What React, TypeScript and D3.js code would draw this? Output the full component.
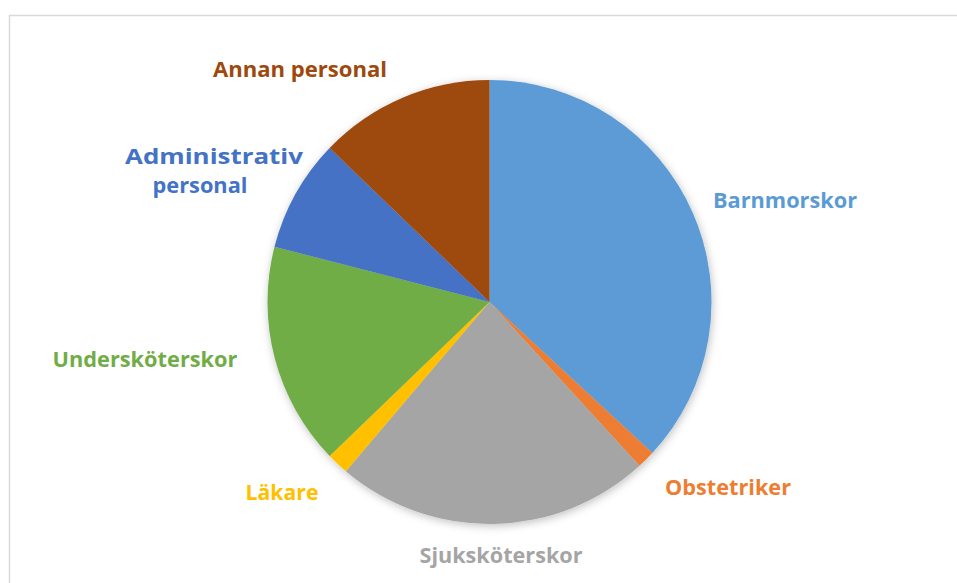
import React, { useRef, useEffect } from 'react';
import * as d3 from 'd3';

// Personnel categories, clockwise from 12 o'clock
const categories = ['Barnmorskor', 'Obstetriker', 'Sjuksköterskor', 'Läkare', 'Undersköterskor', 'Administrativ personal', 'Annan personal'];
const values = [36.9, 1.3, 23.0, 1.6, 16.2, 8.2, 12.8];
const colors = ['#5B9BD5', '#ED7D31', '#A5A5A5', '#FFC000', '#70AD47', '#4472C4', '#9E480E'];

// label layout: text lines, centre x per line, first baseline, fitted width per line
const labelLayout = [
  { lines: ['Barnmorskor'], x: [785], y: 208, w: [144] },
  { lines: ['Obstetriker'], x: [728], y: 495, w: [126] },
  { lines: ['Sjuksköterskor'], x: [501], y: 563, w: [163] },
  { lines: ['Läkare'], x: [282], y: 500, w: [73] },
  { lines: ['Undersköterskor'], x: [145], y: 367, w: [185] },
  { lines: ['Administrativ', 'personal'], x: [214, 200], y: 164, w: [178, 95] },
  { lines: ['Annan personal'], x: [300], y: 77, w: [174] },
];

const W = 957;
const H = 583;

const App: React.FC = () => {
  const ref = useRef<SVGSVGElement | null>(null);

  useEffect(() => {
    if (!ref.current) return;
    const svg = d3.select(ref.current);
    svg.selectAll('*').remove();

    const cx = 489.5;
    const cy = 302;
    const r = 222;

    const defs = svg.append('defs');
    const f = defs.append('filter').attr('id', 'shadow')
      .attr('x', '-20%').attr('y', '-20%').attr('width', '140%').attr('height', '140%');
    f.append('feDropShadow')
      .attr('dx', 1).attr('dy', 2).attr('stdDeviation', 4)
      .attr('flood-color', '#000').attr('flood-opacity', 0.25);

    // chart area border
    svg.append('rect')
      .attr('x', 9.5).attr('y', 15.5)
      .attr('width', W + 20).attr('height', H + 20)
      .attr('fill', '#fff')
      .attr('stroke', '#d9d9d9')
      .attr('stroke-width', 1.5);

    const data = categories.map((c, i) => ({ name: c, value: values[i], color: colors[i] }));
    const pie = d3.pie<typeof data[0]>().sort(null).value(d => d.value);
    const arc = d3.arc<d3.PieArcDatum<typeof data[0]>>().innerRadius(0).outerRadius(r);

    const g = svg.append('g').attr('transform', `translate(${cx},${cy})`);
    g.append('g').attr('filter', 'url(#shadow)')
      .selectAll('path')
      .data(pie(data))
      .join('path')
      .attr('d', arc)
      .attr('fill', d => d.data.color);

    // labels
    labelLayout.forEach((lab, i) => {
      const t = svg.append('text')
        .attr('font-family', '"Open Sans", Lato, sans-serif')
        .attr('font-weight', 700)
        .attr('font-size', 22)
        .attr('fill', colors[i])
        .attr('text-anchor', 'middle');
      lab.lines.forEach((line, j) => {
        t.append('tspan')
          .attr('x', lab.x[j])
          .attr('y', lab.y + j * 29)
          .attr('textLength', lab.w[j])
          .attr('lengthAdjust', 'spacingAndGlyphs')
          .text(line);
      });
    });
  }, []);

  return (
    <svg
      ref={ref}
      width={W}
      height={H}
      style={{ position: 'absolute', left: 0, top: 0, background: '#fff' }}
    />
  );
};

export default App;
